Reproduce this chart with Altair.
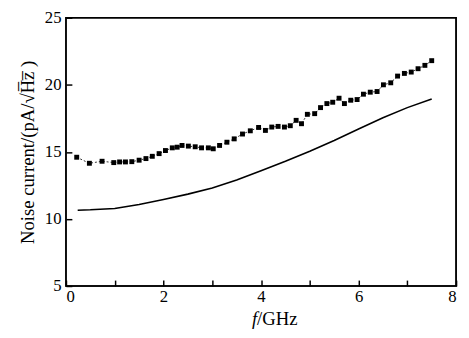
import altair as alt
import pandas as pd

# measured series (squares, dashed connection)
meas_f = [0.22, 0.48, 0.74, 0.98, 1.1, 1.22, 1.35, 1.5, 1.64, 1.77, 1.91, 2.04, 2.18, 2.28,
          2.38, 2.51, 2.65, 2.78, 2.92, 3.02, 3.15, 3.3, 3.45, 3.62, 3.78, 3.95, 4.09, 4.22,
          4.35, 4.48, 4.6, 4.72, 4.83, 4.95, 5.1, 5.22, 5.35, 5.47, 5.6, 5.71, 5.84, 5.97,
          6.1, 6.24, 6.38, 6.51, 6.66, 6.8, 6.94, 7.08, 7.22, 7.36, 7.5]
meas_v = [14.6, 14.15, 14.3, 14.2, 14.25, 14.25, 14.27, 14.38, 14.5, 14.67, 14.87, 15.1, 15.3,
          15.35, 15.48, 15.43, 15.38, 15.3, 15.3, 15.23, 15.48, 15.72, 15.97, 16.33, 16.57,
          16.82, 16.6, 16.85, 16.9, 16.85, 16.95, 17.35, 17.1, 17.8, 17.85, 18.3, 18.6, 18.7,
          19.0, 18.6, 18.85, 18.9, 19.3, 19.45, 19.5, 20.0, 20.15, 20.65, 20.85, 20.95, 21.2,
          21.45, 21.8]

# simulated series (solid line)
sim_f = [0.24, 0.5, 1.0, 1.5, 2.0, 2.5, 3.0, 3.5, 4.0, 4.5, 5.0, 5.5, 6.0, 6.5, 7.0, 7.5]
sim_v = [10.65, 10.68, 10.78, 11.08, 11.45, 11.85, 12.3, 12.9, 13.6, 14.3, 15.05, 15.85,
         16.7, 17.55, 18.3, 18.95]

x_ticks = [0, 1, 2, 3, 4, 5, 6, 7, 8]
y_ticks = [5, 7.5, 10, 12.5, 15, 17.5, 20, 22.5, 25]

W, H = 397, 273
FONT = "Liberation Serif"
TK = 6

meas = pd.DataFrame({"f": meas_f, "v": meas_v})
sim = pd.DataFrame({"f": sim_f, "v": sim_v})

xs = alt.Scale(domain=[0, 8], nice=False)
ys = alt.Scale(domain=[5, 25], nice=False)

xax = alt.Axis(values=x_ticks, ticks=True, tickSize=TK, tickWidth=1.5, tickColor="black",
               offset=-TK, domain=False, grid=False, labelPadding=3, title=None,
               labelExpr="datum.value % 2 == 0 ? datum.label : ''", format="d",
               labelFont=FONT, labelFontSize=17, labelColor="black")
yax = alt.Axis(values=y_ticks, ticks=True, tickSize=TK, tickWidth=1.5, tickColor="black",
               offset=-TK, domain=False, grid=False, labelPadding=5,
               labelExpr="datum.value % 5 == 0 ? format(datum.value, 'd') : ''",
               title="Noise current/(pA/\u221aH\u0305z\u0305 )", titlePadding=7,
               labelFont=FONT, labelFontSize=17, labelColor="black",
               titleFont=FONT, titleFontSize=19, titleFontWeight="normal", titleColor="black")

line_meas = alt.Chart(meas).mark_line(color="black", strokeWidth=0.8, strokeDash=[2, 2]).encode(
    x=alt.X("f:Q", scale=xs, axis=xax), y=alt.Y("v:Q", scale=ys, axis=yax))
pts = alt.Chart(meas).mark_square(color="black", size=25, opacity=1).encode(
    x=alt.X("f:Q", scale=xs), y=alt.Y("v:Q", scale=ys))
line_sim = alt.Chart(sim).mark_line(color="black", strokeWidth=1.6).encode(
    x=alt.X("f:Q", scale=xs), y=alt.Y("v:Q", scale=ys))

frame = alt.Chart(pd.DataFrame({"k": [0]})).mark_rect(
    fill="white", fillOpacity=0, stroke="black", strokeWidth=1.5, strokeOpacity=1).encode(
    x=alt.value(0), x2=alt.value(W), y=alt.value(0), y2=alt.value(H))

xtitle_f = alt.Chart(pd.DataFrame({"s": ["f"]})).mark_text(
    font=FONT, fontSize=19, fontStyle="italic", align="right", baseline="alphabetic",
    color="black").encode(text="s:N", x=alt.value(W / 2 - 4), y=alt.value(H + 40))
xtitle_rest = alt.Chart(pd.DataFrame({"s": ["/GHz"]})).mark_text(
    font=FONT, fontSize=19, align="left", baseline="alphabetic",
    color="black").encode(text="s:N", x=alt.value(W / 2 - 4), y=alt.value(H + 40))

chart = alt.layer(line_meas, pts, line_sim, frame, xtitle_f, xtitle_rest).properties(
    width=W, height=H,
    autosize=alt.AutoSizeParams(type="none"),
    padding={"left": 59, "top": 7, "right": 5, "bottom": 50},
).configure(background="white", view=alt.ViewConfig(stroke="black", strokeWidth=1.5))

chart.save("out.html", embed_options={"renderer": "svg", "actions": False})
